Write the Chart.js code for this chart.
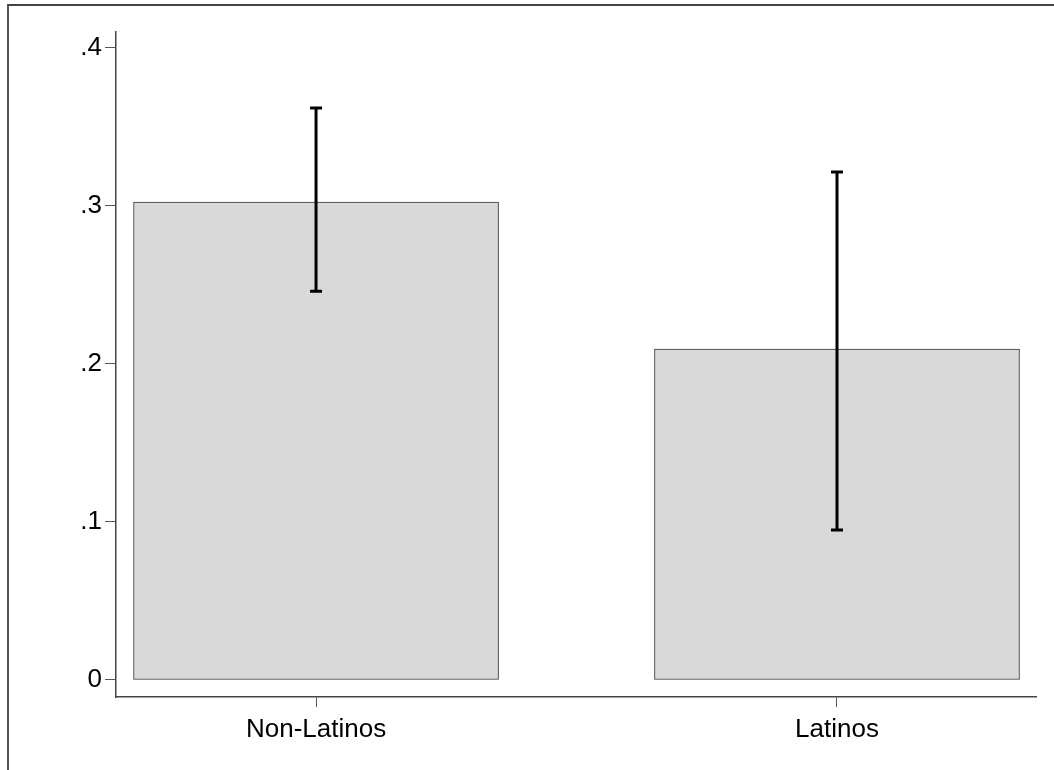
<!DOCTYPE html>
<html>
<head>
<meta charset="utf-8">
<script src="https://cdn.jsdelivr.net/npm/chart.js@4"></script>
<style>
  html, body { margin: 0; padding: 0; background: #fff; }
  #wrap { position: relative; width: 1054px; height: 770px; overflow: hidden; }
  #frame { position: absolute; left: 7px; top: 4px; right: -4px; bottom: -4px;
           border-top: 2px solid #444; border-left: 2px solid #555; }
  canvas { position: absolute; left: 0; top: 0; }
</style>
</head>
<body>
<div id="wrap">
  <div id="frame"></div>
  <canvas id="chart" width="1054" height="770"></canvas>
</div>
<script>
// ---- Data ----
const categories = ['Non-Latinos', 'Latinos'];
const means = [0.3025, 0.2095];
const ciLow = [0.246, 0.095];
const ciHigh = [0.362, 0.3215];
const yTicks = [0, 0.1, 0.2, 0.3, 0.4];

const FONT = "'Liberation Sans', Arial, Helvetica, sans-serif";

// Error bars drawn through the chart's own scales
const errorBars = {
  id: 'errorBars',
  afterDatasetsDraw(chart) {
    const { ctx, scales: { x, y } } = chart;
    ctx.save();
    ctx.strokeStyle = '#000';
    ctx.lineWidth = 3;
    ctx.lineCap = 'butt';
    categories.forEach((_, i) => {
      const px = x.getPixelForValue(i);
      const top = y.getPixelForValue(ciHigh[i]);
      const bot = y.getPixelForValue(ciLow[i]);
      ctx.beginPath();
      ctx.moveTo(px, top); ctx.lineTo(px, bot);
      ctx.moveTo(px - 6, top); ctx.lineTo(px + 6, top);
      ctx.moveTo(px - 6, bot); ctx.lineTo(px + 6, bot);
      ctx.stroke();
    });
    ctx.restore();
  },
};

new Chart(document.getElementById('chart'), {
  type: 'bar',
  data: {
    datasets: [{
      data: means.map((v, i) => ({ x: i, y: v })),
      backgroundColor: '#d9d9d9',
      borderColor: '#333',
      borderWidth: 1,
      borderSkipped: false,
      barThickness: 365,
    }],
  },
  options: {
    responsive: false,
    animation: false,
    events: [],
    layout: { padding: { left: 0, top: 32, right: 18, bottom: 0 } },
    plugins: { legend: { display: false }, tooltip: { enabled: false } },
    scales: {
      x: {
        type: 'linear',
        offset: false,
        min: -0.384,
        max: 1.382,
        afterBuildTicks: s => { s.ticks = categories.map((_, i) => ({ value: i })); },
        afterFit: s => { s.height = 73; },
        ticks: {
          callback: v => categories[v] ?? '',
          color: '#000',
          font: { family: FONT, size: 26 },
          padding: 7,
          maxRotation: 0,
          autoSkip: false,
        },
        grid: { offset: false, drawOnChartArea: false, drawTicks: true, tickLength: 10, color: '#555', lineWidth: 1 },
        border: { display: true, color: '#444', width: 1.5 },
      },
      y: {
        min: -0.01076,
        max: 0.4101,
        afterBuildTicks: s => { s.ticks = yTicks.map(v => ({ value: v })); },
        afterFit: s => { s.width = 116; },
        ticks: {
          callback: v => v === 0 ? '0' : String(+v.toFixed(1)).replace(/^0/, ''),
          color: '#000',
          font: { family: FONT, size: 26 },
          padding: 3,
        },
        grid: { drawOnChartArea: false, drawTicks: true, tickLength: 11, color: '#555', lineWidth: 1 },
        border: { display: true, color: '#444', width: 1.5 },
      },
    },
  },
  plugins: [errorBars],
});
</script>
</body>
</html>
